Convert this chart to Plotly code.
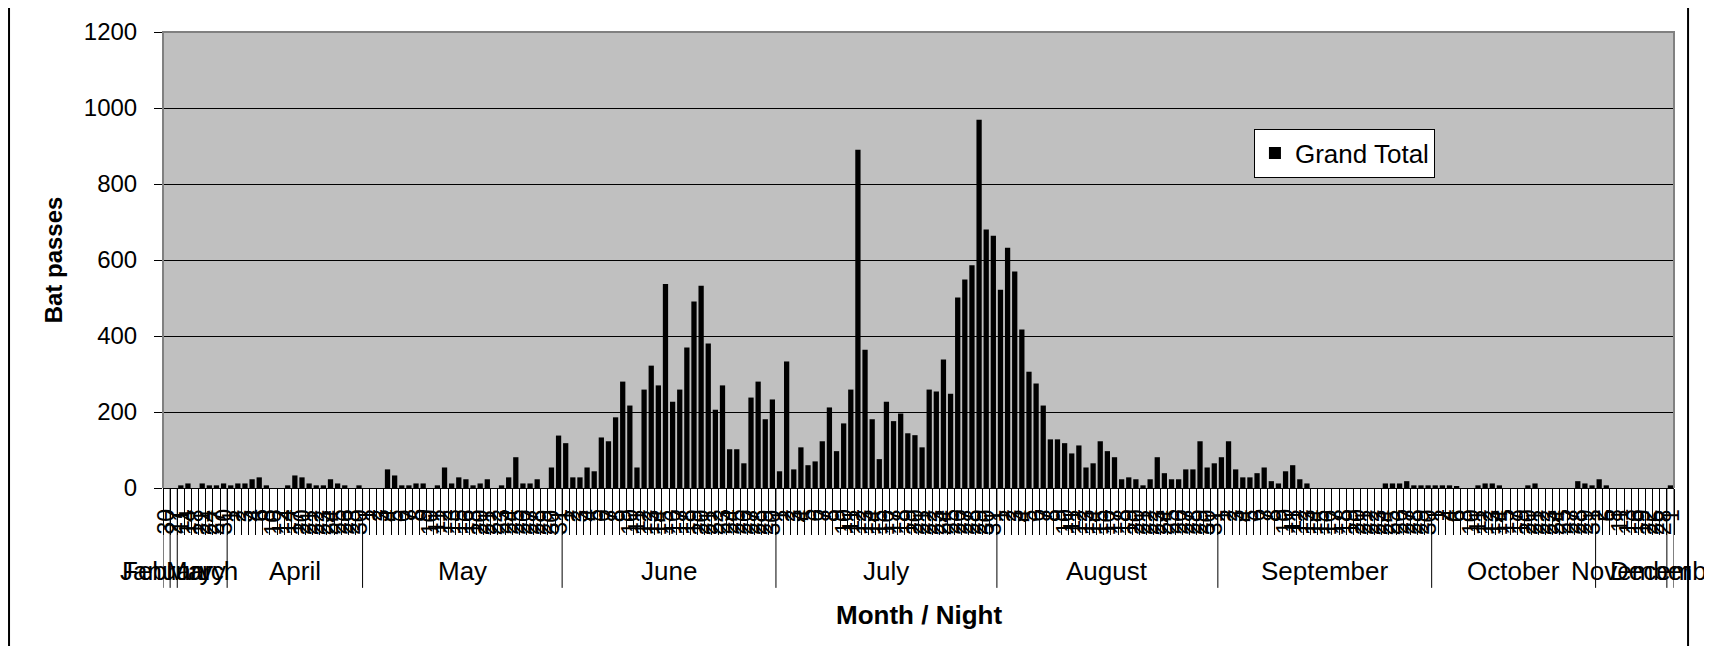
import plotly.graph_objects as go

# ---------------- data ----------------
MONTHS = ["January", "February", "March", "April", "May", "June", "July",
          "August", "September", "October", "November", "December"]

jan_nights = [30]
feb_nights = [27]
mar_nights = [11, 14, 18, 21, 24, 27, 30]
apr_nights = [1, 2, 3, 4, 6, 8, 10, 12, 14, 17, 20, 21, 22, 23, 24, 25, 26, 28, 30]
may_nights = [1, 2, 3, 4, 5, 6, 7, 8, 9, 10, 11, 12, 13, 15, 16, 18,
              20, 21, 22, 23, 24, 25, 26, 27, 28, 29, 30, 31]
jun_nights = [1, 2, 3, 4, 5, 6, 7, 8, 9, 10, 11, 12, 13, 14, 15, 16, 17, 18, 19, 20,
              21, 22, 23, 24, 25, 26, 27, 28, 29, 30]
jul_nights = [1, 2, 3, 4, 5, 6, 7, 8, 9, 10, 11, 12, 13, 14, 15, 16, 17, 18, 19, 20,
              21, 22, 23, 24, 25, 26, 27, 28, 29, 30, 31]
aug_nights = [1, 2, 3, 4, 5, 6, 7, 8, 9, 10, 11, 12, 13, 14, 15, 16, 17, 18, 19, 20,
              21, 22, 23, 24, 25, 26, 27, 28, 29, 30, 31]
sep_nights = [1, 2, 3, 4, 5, 6, 7, 8, 9, 10, 11, 12, 13, 14, 15, 16, 17, 18, 19, 20,
              21, 22, 23, 24, 25, 26, 27, 28, 29, 30]
oct_nights = [1, 2, 4, 6, 8, 10, 11, 12, 13, 14, 15, 17, 19, 20, 21, 22, 23, 24, 25,
              27, 28, 29, 31]
nov_nights = [2, 5, 8, 11, 13, 16, 19, 22, 25, 28]
dec_nights = [1]

jan_vals = [0]
feb_vals = [0]
mar_vals = [7, 12, 0, 12, 7, 7, 12]
apr_vals = [7, 12, 12, 23, 28, 7, 0, 0, 7, 33, 28, 12, 7, 7, 23, 12, 7, 0, 7]
may_vals = [0, 0, 0, 49, 33, 7, 7, 12, 12, 0, 7, 54, 12, 28, 23, 7, 12, 23, 0, 7,
            28, 81, 12, 12, 23, 0, 54, 138]
jun_vals = [118, 28, 28, 54, 44, 133, 123, 186, 280, 217, 54, 259, 322, 270, 537,
            227, 259, 370, 491, 532, 380, 206, 270, 102, 102, 65, 238, 280, 181, 233]
jul_vals = [44, 333, 49, 107, 60, 70, 123, 212, 97, 170, 259, 890, 364, 181, 76,
            227, 176, 196, 144, 139, 107, 259, 254, 338, 248, 501, 549, 586, 969, 680, 664]
aug_vals = [522, 632, 570, 417, 306, 275, 217, 128, 128, 118, 91, 112, 54, 65, 123,
            97, 81, 23, 28, 23, 7, 23, 81, 39, 23, 23, 49, 49, 123, 54, 65]
sep_vals = [81, 123, 49, 28, 28, 39, 54, 18, 12, 44, 60, 23, 12, 0, 0, 0, 0, 0, 0, 0,
            0, 0, 0, 12, 12, 12, 18, 7, 7, 7]
oct_vals = [7, 7, 7, 5, 0, 0, 7, 12, 12, 7, 0, 0, 0, 7, 12, 0, 0, 0, 0, 0, 18, 12, 7]
nov_vals = [23, 7, 0, 0, 0, 0, 0, 0, 0, 0]
dec_vals = [7]

Y_TICKS = [0, 200, 400, 600, 800, 1000, 1200]

NIGHTS = [jan_nights, feb_nights, mar_nights, apr_nights, may_nights, jun_nights,
          jul_nights, aug_nights, sep_nights, oct_nights, nov_nights, dec_nights]
VALUES = [jan_vals, feb_vals, mar_vals, apr_vals, may_vals, jun_vals,
          jul_vals, aug_vals, sep_vals, oct_vals, nov_vals, dec_vals]

# ---------------- build ----------------
FONT = "Liberation Sans, Arial, Helvetica, sans-serif"

labels, vals, starts = [], [], []
for nights, v in zip(NIGHTS, VALUES):
    starts.append(len(vals))
    labels += [str(n) for n in nights]
    vals += v
n = len(vals)
xs = list(range(n))

fig = go.Figure()
fig.add_trace(go.Bar(
    x=xs, y=vals, name="Grand Total",
    marker=dict(color="#000000", line=dict(width=0)),
    showlegend=True,
))

shapes = []
annotations = []

# night labels (level 1 of the category axis), rotated like the original
for i, lab in enumerate(labels):
    annotations.append(dict(
        x=i, xref="x", y=-0.044, yref="paper", text=lab, textangle=-90,
        showarrow=False, xanchor="center", yanchor="top", borderpad=0,
        font=dict(family=FONT, size=23, color="#000000"),
    ))

# month labels (level 2) and dividers
bounds = starts + [n]
for i, m in enumerate(MONTHS):
    s, e = bounds[i], bounds[i + 1]
    annotations.append(dict(
        x=(s + e - 1) / 2, xref="x", y=-0.1815, yref="paper",
        text=m, showarrow=False, xanchor="center", yanchor="middle",
        font=dict(family=FONT, size=26, color="#000000"),
    ))
for b in bounds:
    shapes.append(dict(type="line", xref="x", yref="paper",
                       x0=b - 0.5, x1=b - 0.5, y0=0, y1=-0.219,
                       line=dict(color="#000000", width=1)))

# x-axis title
annotations.append(dict(
    x=0.5, xref="paper", y=-0.2785, yref="paper", text="<b>Month / Night</b>",
    showarrow=False, xanchor="center", yanchor="middle",
    font=dict(family=FONT, size=26, color="#000000"),
))

# plot-area border (top, left, right)
shapes.append(dict(type="path", xref="paper", yref="paper",
                   path="M 0,0 L 0,1 L 1,1 L 1,0",
                   line=dict(color="#808080", width=2), layer="above"))
# chart-area border (left / right edges)
for xp in (-0.1019, 1.0093):
    shapes.append(dict(type="line", xref="paper", yref="paper",
                       x0=xp, x1=xp, y0=-0.4, y1=1.1,
                       line=dict(color="#000000", width=2)))

fig.update_layout(
    width=1704, height=638,
    margin=dict(l=155, r=38, t=24, b=158, pad=0),
    paper_bgcolor="#FFFFFF", plot_bgcolor="#C0C0C0",
    font=dict(family=FONT, color="#000000"),
    bargap=0.26,
    showlegend=True,
    legend=dict(x=0.722, y=0.788, xanchor="left", yanchor="top",
                bgcolor="#FFFFFF", bordercolor="#000000", borderwidth=1,
                font=dict(family=FONT, size=26, color="#000000")),
    shapes=shapes, annotations=annotations,
    xaxis=dict(
        range=[-0.5, n - 0.5], showgrid=False, zeroline=False, automargin=False,
        showline=True, linecolor="#000000", linewidth=1,
        tickmode="array", tickvals=xs, ticktext=labels,
        showticklabels=False, ticks="",
        minor=dict(tickmode="array", tickvals=[k - 0.5 for k in range(n + 1)],
                   ticks="outside", ticklen=46, tickwidth=1, tickcolor="#000000",
                   showgrid=False),
    ),
    yaxis=dict(
        range=[0, 1200], tickmode="array", tickvals=Y_TICKS, automargin=False,
        showgrid=True, gridcolor="#000000", gridwidth=1,
        zeroline=False, showline=False,
        ticks="outside", ticklen=8, tickwidth=1, tickcolor="#000000",
        ticklabelstandoff=12,
        tickfont=dict(family=FONT, size=24, color="#000000"),
        title=dict(text="Bat passes", standoff=14,
                   font=dict(family=FONT, size=24, color="#000000", weight="bold")),
    ),
)

fig.write_html("out.html")
